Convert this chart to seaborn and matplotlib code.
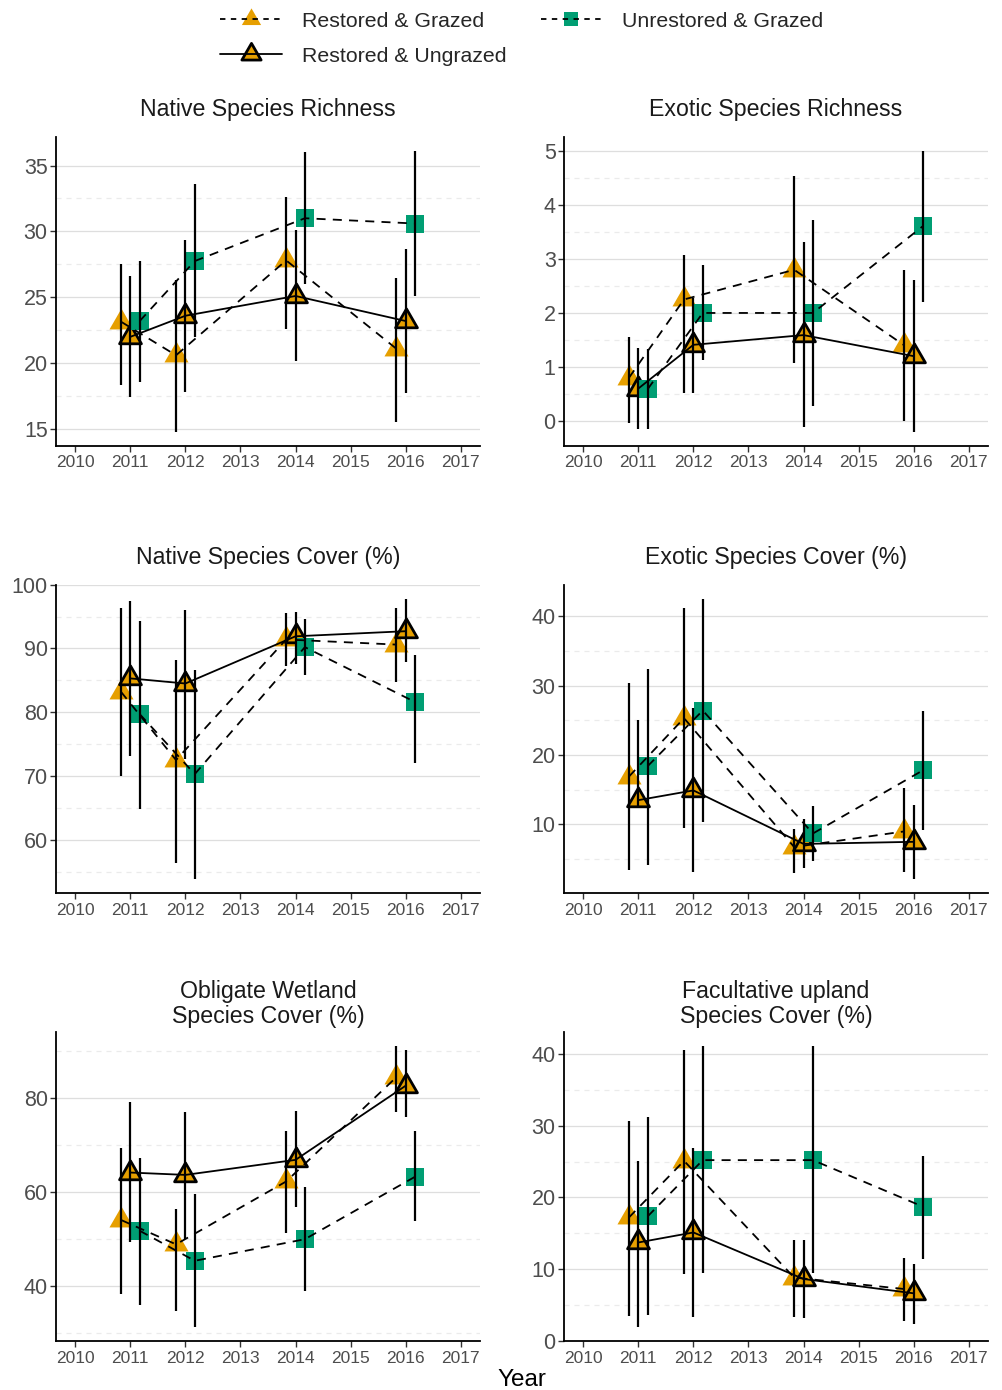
import numpy as np
import pandas as pd
import seaborn as sns
import matplotlib.pyplot as plt
from matplotlib.lines import Line2D
from matplotlib.legend_handler import HandlerTuple
from matplotlib.ticker import MultipleLocator
from matplotlib.path import Path

# survey years and treatment groups
years = [2011, 2012, 2014, 2016]
groups = ['Restored & Grazed', 'Restored & Ungrazed', 'Unrestored & Grazed']

# native species richness (mean, lower, upper)
nsr_rg = [23.15, 20.6, 27.8, 21.1]
nsr_rg_lo = [18.35, 14.8, 22.6, 15.5]
nsr_rg_hi = [27.5, 26.3, 32.6, 26.45]
nsr_ru = [22.0, 23.6, 25.1, 23.2]
nsr_ru_lo = [17.4, 17.8, 20.2, 17.7]
nsr_ru_hi = [26.6, 29.35, 30.1, 28.7]
nsr_ug = [23.2, 27.75, 31.0, 30.6]
nsr_ug_lo = [18.55, 22.0, 26.0, 25.1]
nsr_ug_hi = [27.75, 33.6, 36.0, 36.1]

# exotic species richness
esr_rg = [0.8, 2.25, 2.8, 1.4]
esr_rg_lo = [-0.04, 0.51, 1.07, 0.0]
esr_rg_hi = [1.56, 3.08, 4.53, 2.8]
esr_ru = [0.6, 1.41, 1.59, 1.2]
esr_ru_lo = [-0.15, 0.51, -0.12, -0.2]
esr_ru_hi = [1.35, 2.28, 3.32, 2.61]
esr_ug = [0.59, 2.0, 2.0, 3.61]
esr_ug_lo = [-0.15, 1.12, 0.28, 2.2]
esr_ug_hi = [1.34, 2.89, 3.72, 5.0]

# native species cover (%)
nsc_rg = [83.2, 72.5, 91.4, 90.6]
nsc_rg_lo = [70.05, 56.3, 87.3, 84.7]
nsc_rg_hi = [96.3, 88.2, 95.5, 96.3]
nsc_ru = [85.3, 84.5, 91.9, 92.7]
nsc_ru_lo = [73.2, 72.6, 87.6, 87.8]
nsc_ru_hi = [97.4, 96.1, 95.7, 97.8]
nsc_ug = [79.7, 70.3, 90.2, 81.6]
nsc_ug_lo = [64.9, 53.8, 85.9, 72.1]
nsc_ug_hi = [94.3, 86.6, 94.6, 89.0]

# exotic species cover (%)
esc_rg = [16.9, 25.3, 6.75, 9.0]
esc_rg_lo = [3.5, 9.5, 3.0, 3.1]
esc_rg_hi = [30.3, 41.2, 9.3, 15.3]
esc_ru = [13.5, 14.9, 7.2, 7.5]
esc_ru_lo = [12.5, 3.1, 3.7, 2.1]
esc_ru_hi = [25.0, 26.7, 10.8, 12.8]
esc_ug = [18.4, 26.4, 8.7, 17.8]
esc_ug_lo = [4.2, 10.3, 4.8, 9.2]
esc_ug_hi = [32.4, 42.5, 12.7, 26.4]

# obligate wetland species cover (%)
owc_rg = [54.0, 48.8, 62.2, 84.4]
owc_rg_lo = [38.2, 34.6, 51.3, 76.9]
owc_rg_hi = [69.3, 56.3, 72.9, 91.0]
owc_ru = [64.1, 63.6, 66.8, 82.6]
owc_ru_lo = [49.2, 49.9, 56.7, 75.9]
owc_ru_hi = [79.1, 76.9, 77.3, 90.3]
owc_ug = [51.7, 45.3, 49.9, 63.2]
owc_ug_lo = [35.9, 31.2, 38.9, 53.7]
owc_ug_hi = [67.2, 59.5, 61.1, 72.9]

# facultative upland species cover (%)
fuc_rg = [17.2, 25.1, 8.8, 7.2]
fuc_rg_lo = [3.5, 9.3, 3.3, 2.7]
fuc_rg_hi = [30.7, 40.6, 14.0, 11.5]
fuc_ru = [13.7, 15.1, 8.6, 6.6]
fuc_ru_lo = [1.9, 3.35, 3.2, 2.3]
fuc_ru_hi = [25.1, 26.9, 14.0, 10.7]
fuc_ug = [17.35, 25.2, 25.2, 18.7]
fuc_ug_lo = [3.6, 9.4, 9.4, 11.4]
fuc_ug_hi = [31.2, 41.1, 41.1, 25.8]

titles = ['Native Species Richness', 'Exotic Species Richness',
          'Native Species Cover (%)', 'Exotic Species Cover (%)',
          'Obligate Wetland\nSpecies Cover (%)', 'Facultative upland\nSpecies Cover (%)']

panel_data = [
    [(nsr_rg, nsr_rg_lo, nsr_rg_hi), (nsr_ru, nsr_ru_lo, nsr_ru_hi), (nsr_ug, nsr_ug_lo, nsr_ug_hi)],
    [(esr_rg, esr_rg_lo, esr_rg_hi), (esr_ru, esr_ru_lo, esr_ru_hi), (esr_ug, esr_ug_lo, esr_ug_hi)],
    [(nsc_rg, nsc_rg_lo, nsc_rg_hi), (nsc_ru, nsc_ru_lo, nsc_ru_hi), (nsc_ug, nsc_ug_lo, nsc_ug_hi)],
    [(esc_rg, esc_rg_lo, esc_rg_hi), (esc_ru, esc_ru_lo, esc_ru_hi), (esc_ug, esc_ug_lo, esc_ug_hi)],
    [(owc_rg, owc_rg_lo, owc_rg_hi), (owc_ru, owc_ru_lo, owc_ru_hi), (owc_ug, owc_ug_lo, owc_ug_hi)],
    [(fuc_rg, fuc_rg_lo, fuc_rg_hi), (fuc_ru, fuc_ru_lo, fuc_ru_hi), (fuc_ug, fuc_ug_lo, fuc_ug_hi)],
]
y_steps = [5, 1, 10, 10, 20, 10]

# styles
orange = '#E69F00'
green = '#009E73'
# triangle centred on its centroid (as R draws it)
tri = Path([(0, 1), (-0.866, -0.5), (0.866, -0.5), (0, 1)], closed=True)
dodge = {'Restored & Grazed': -0.17, 'Restored & Ungrazed': 0.0, 'Unrestored & Grazed': 0.17}
dash_map = {'Restored & Grazed': (5, 4), 'Restored & Ungrazed': '', 'Unrestored & Grazed': (5, 4)}
marker_map = {'Restored & Grazed': tri, 'Restored & Ungrazed': tri, 'Unrestored & Grazed': 's'}
fill_map = {'Restored & Grazed': orange, 'Restored & Ungrazed': orange, 'Unrestored & Grazed': green}
edge_map = {'Restored & Grazed': orange, 'Restored & Ungrazed': 'black', 'Unrestored & Grazed': green}
size_map = {'Restored & Grazed': 400, 'Restored & Ungrazed': 330, 'Unrestored & Grazed': 165}

# long table
rows = []
for p, pdata in enumerate(panel_data):
    for g, (m, lo, hi) in zip(groups, pdata):
        for yr, mv, l, h in zip(years, m, lo, hi):
            rows.append({'panel': p, 'group': g, 'year': yr, 'x': yr + dodge[g],
                         'mean': mv, 'lo': l, 'hi': h})
df = pd.DataFrame(rows)

sns.set_style('white')
plt.rcParams['font.family'] = ['Liberation Sans', 'DejaVu Sans']

fig, axes = plt.subplots(3, 2, figsize=(10.03, 13.9), dpi=100)
fig.subplots_adjust(left=56/1003, right=988/1003, top=1-137/1390, bottom=1-1341/1390,
                    wspace=84/424, hspace=139/309)

for p, ax in enumerate(axes.flat):
    d = df[df.panel == p]
    for g in groups:
        dg = d[d.group == g]
        sns.scatterplot(data=dg, x='x', y='mean', marker=marker_map[g], s=size_map[g],
                        color=fill_map[g], edgecolor=edge_map[g],
                        linewidth=2 if g == 'Restored & Ungrazed' else 0,
                        ax=ax, legend=False, zorder=2)
    sns.lineplot(data=d, x='x', y='mean', style='group', style_order=groups, dashes=dash_map,
                 units='group', estimator=None, color='black', lw=1.3, ax=ax,
                 legend=False, zorder=3)
    ax.vlines(d.x, d.lo, d.hi, color='black', lw=1.6, zorder=3)

    # limits with 5% padding like the original
    lo_all, hi_all = d.lo.min(), d.hi.max()
    pad = 0.05 * (hi_all - lo_all)
    ax.set_ylim(lo_all - pad, hi_all + pad)
    ax.set_xlim(2010 - 0.35, 2017 + 0.35)
    ax.set_xticks(range(2010, 2018))
    ax.yaxis.set_major_locator(MultipleLocator(y_steps[p]))
    ax.yaxis.set_minor_locator(MultipleLocator(y_steps[p] / 2))

    ax.grid(axis='y', which='major', color='#DEDEDE', lw=0.9)
    ax.grid(axis='y', which='minor', color='#EBEBEB', lw=0.9, ls=(0, (4, 4)))
    ax.grid(axis='x', visible=False)
    ax.set_axisbelow(True)
    sns.despine(ax=ax)
    for s in ['left', 'bottom']:
        ax.spines[s].set_color('black')
        ax.spines[s].set_linewidth(1.3)
    ax.tick_params(axis='both', which='major', length=4, width=1, color='#333333',
                   labelcolor='#4D4D4D', left=True, bottom=True)
    ax.tick_params(axis='y', which='minor', length=0)
    ax.tick_params(axis='x', labelsize=12.5, pad=3)
    ax.tick_params(axis='y', labelsize=15.5, pad=2)
    ax.set_xlabel('')
    ax.set_ylabel('')
    ax.set_title(titles[p], fontsize=16.7, color='#1A1A1A',
                 pad=7 if p >= 4 else 15, linespacing=1.1)

fig.text(522/1003, 1 - 1380/1390, 'Year', ha='center', va='center', fontsize=17.5, color='black')

# legend keys: line drawn across the key, marker in the middle under it
def key(g):
    mk = Line2D([], [], ls='none', marker=marker_map[g],
                ms=16 if g != 'Unrestored & Grazed' else 10,
                mfc=fill_map[g], mec=edge_map[g], mew=2 if g == 'Restored & Ungrazed' else 0)
    ln = Line2D([], [], color='black', lw=1.3,
                ls=(0, (3, 3)) if dash_map[g] else '-')
    return (mk, ln)

handles = [key(g) for g in groups]
fig.legend(handles, groups, loc='upper center', bbox_to_anchor=(522/1003, 1.0), ncol=2,
           frameon=False, fontsize=15.3, handlelength=2.9, handletextpad=0.95,
           columnspacing=1.6, labelspacing=0.75, borderaxespad=0.15,
           handler_map={tuple: HandlerTuple(ndivide=1, pad=0)})

fig.savefig('out.png', dpi=100)
